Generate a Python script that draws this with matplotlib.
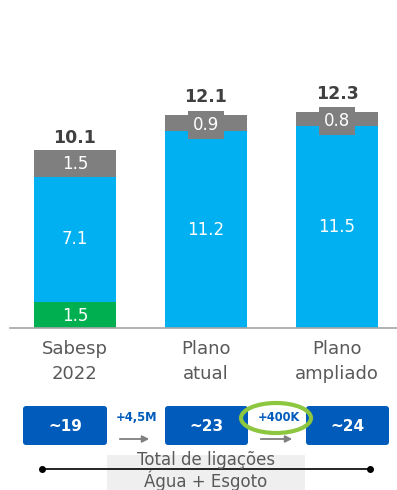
import matplotlib
matplotlib.use("Agg")
from matplotlib import pyplot as plt
from matplotlib.patches import FancyBboxPatch, Ellipse, Rectangle
import numpy as np

categories = ["Sabesp\n2022", "Plano\natual", "Plano\nampliado"]
green_vals = [1.5, 0.0, 0.0]
blue_vals = [7.1, 11.2, 11.5]
gray_vals = [1.5, 0.9, 0.8]
totals = [10.1, 12.1, 12.3]
conn_labels = ["~19", "~23", "~24"]
step_labels = ["+4,5M", "+400K"]
footer = "Total de ligações\nÁgua + Esgoto"

BLUE = "#00B0F0"
GRAY = "#7F7F7F"
GREEN = "#00B050"
DARKBLUE = "#005BBB"
TXT = "#404040"

plt.rcParams["font.family"] = ["DejaVu Sans"]

W, H = 397, 490
fig = plt.figure(figsize=(W / 100, H / 100), dpi=100)

# bar chart axes, positioned in pixels
ax = fig.add_axes([10 / W, 162 / H, 387 / W, 248 / H])
x = np.arange(len(categories))
ax.set_xlim(-0.496, 2.458)
ax.set_ylim(0, 14.1)
width = 0.62

g = np.array(green_vals)
b = np.array(blue_vals)
gr = np.array(gray_vals)
ax.bar(x, g, width, color=GREEN)
ax.bar(x, b, width, bottom=g, color=BLUE)
ax.bar(x, gr, width, bottom=g + b, color=GRAY)

for i in range(len(x)):
    if g[i] > 0:
        ax.text(x[i], g[i] / 2 - 0.05, f"{g[i]:.1f}", ha="center", va="center",
                color="white", fontsize=12)
    ax.text(x[i], g[i] + b[i] / 2, f"{b[i]:.1f}", ha="center", va="center",
            color="white", fontsize=12)
    yc = g[i] + b[i] + gr[i] / 2
    if gr[i] < 1.2:
        ax.text(x[i], yc - 0.12, f"{gr[i]:.1f}", ha="center", va="center",
                color="white", fontsize=12,
                bbox=dict(boxstyle="square,pad=0.3", fc=GRAY, ec="none"))
        off = 9
    else:
        ax.text(x[i], yc, f"{gr[i]:.1f}", ha="center", va="center",
                color="white", fontsize=12)
        off = 3
    ax.annotate(f"{totals[i]:.1f}", (x[i], totals[i]), xytext=(0, off),
                textcoords="offset pixels", ha="center", va="bottom",
                fontsize=12.5, fontweight="bold", color=TXT)

ax.set_xticks(x)
ax.set_xticklabels(categories, fontsize=13, color="#595959", linespacing=1.45)
ax.tick_params(axis="x", length=0, pad=9)
ax.set_yticks([])
for s in ["top", "right", "left"]:
    ax.spines[s].set_visible(False)
ax.spines["bottom"].set_color("#A6A6A6")
ax.spines["bottom"].set_linewidth(1.2)

# overlay in pixel coordinates for the lower annotations
ov = fig.add_axes([0, 0, 1, 1])
ov.set_xlim(0, W)
ov.set_ylim(H, 0)
ov.axis("off")

box_x = [(23, 107), (165, 248), (306, 389)]
for (x0, x1), lab in zip(box_x, conn_labels):
    ov.add_patch(FancyBboxPatch((x0 + 3, 409), x1 - x0 - 6, 33,
                                boxstyle="round,pad=3", fc=DARKBLUE, ec="none"))
    ov.text((x0 + x1) / 2, 426, lab, ha="center", va="center", color="white",
            fontsize=11, fontweight="bold")

step_x = [(117, 152), (258, 295)]
for (x0, x1), lab in zip(step_x, step_labels):
    ov.text((x0 + x1) / 2 + 2, 417, lab, ha="center", va="center",
            color=DARKBLUE, fontsize=8.3, fontweight="bold")
    ov.annotate("", xy=(x1, 439), xytext=(x0, 439),
                arrowprops=dict(arrowstyle="-|>", color=GRAY, lw=1.3,
                                mutation_scale=10))

ov.add_patch(Ellipse((276, 418), 70, 30, fill=False, ec="#8DC63F", lw=3))

ov.plot([42, 370], [469, 469], color="black", lw=1.2)
ov.plot([42, 370], [469, 469], "o", color="black", ms=4)
ov.add_patch(Rectangle((107, 455), 198, 40, fc="#EFEFEF", ec="none"))
ov.text(206, 471, footer, ha="center", va="center", color="#595959",
        fontsize=12, linespacing=1.05)

fig.savefig("out.png", dpi=100)
